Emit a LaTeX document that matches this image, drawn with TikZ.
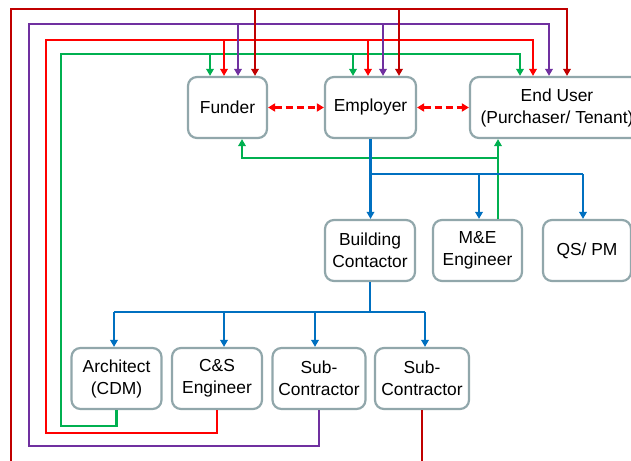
\documentclass[tikz,border=0pt]{standalone}
\usepackage{fontspec}
\setmainfont{Liberation Sans}
\usetikzlibrary{arrows.meta}
\definecolor{dred}{RGB}{192,0,0}
\definecolor{pur}{RGB}{112,48,160}
\definecolor{bred}{RGB}{255,0,0}
\definecolor{grn}{RGB}{0,176,80}
\definecolor{blu}{RGB}{0,112,192}
\definecolor{edge}{RGB}{145,167,171}

\begin{document}
\begin{tikzpicture}[x=1pt,y=-1pt,
  box/.style={draw=edge,line width=2.2pt,rounded corners=9pt,fill=white,
    align=center,inner sep=2pt,minimum height=61pt,
    font=\fontsize{17.4}{22}\selectfont},
  tip/.style={-{Triangle[length=7pt,width=7.5pt]}},
  feed/.style={line width=2.6pt},
  flow/.style={line width=2.2pt,blu},
  link/.style={line width=2.3pt,bred,dash pattern=on 7pt off 4pt,
    {Triangle[length=7pt,width=8pt]}-{Triangle[length=7pt,width=8pt]}}]
\useasboundingbox (0,0) rectangle (631,460);
\clip (0,0) rectangle (631,460);

% ---- boxes ----
\node[box,minimum width=79pt] (funder)   at (227.5,107.5) {Funder};
\node[box,minimum width=91pt] (employer) at (370.5,107.5) {Employer};
\node[box,minimum width=174pt] (enduser) at (557,107.5) {End User\\(Purchaser/ Tenant)};
\node[box,minimum width=90pt] (bc)   at (370,250.5) {Building\\Contactor};
\node[box,minimum width=89pt] (me)   at (477.5,250.5) {M\&E\\Engineer};
\node[box,minimum width=88pt] (qs)   at (587,250.5) {QS/ PM};
\node[box,minimum width=90pt] (arch) at (116.5,378.5) {Architect\\(CDM)};
\node[box,minimum width=90pt] (cs)   at (217,378.5) {C\&S\\Engineer};
\node[box,minimum width=93pt] (sub1) at (319,378.5) {Sub-\\Contractor};
\node[box,minimum width=94pt] (sub2) at (422,378.5) {Sub-\\Contractor};

% ---- feedback loops round the outside ----
% green loop from the architect
\coordinate (gBL) at (61,426);
\coordinate (gTL) at (61,54);
\coordinate (gTR) at (520,54);
\coordinate (gF)  at (210,54);
\coordinate (gE)  at (353,54);
\draw[feed,grn,tip] (arch.south) |- (gBL) -- (gTL) -- (gTR) -- (gTR |- enduser.north);
\draw[feed,grn,tip] (gF) -- (gF |- funder.north);
\draw[feed,grn,tip] (gE) -- (gE |- employer.north);

% red loop from the C&S engineer
\coordinate (rBL) at (46,433);
\coordinate (rTL) at (46,40);
\coordinate (rTR) at (533,40);
\coordinate (rF)  at (224,40);
\coordinate (rE)  at (368,40);
\draw[feed,bred,tip] (cs.south) |- (rBL) -- (rTL) -- (rTR) -- (rTR |- enduser.north);
\draw[feed,bred,tip] (rF) -- (rF |- funder.north);
\draw[feed,bred,tip] (rE) -- (rE |- employer.north);

% purple loop from the first sub-contractor
\coordinate (pBL) at (29,446);
\coordinate (pTL) at (29,24);
\coordinate (pTR) at (549,24);
\coordinate (pF)  at (238,24);
\coordinate (pE)  at (383,24);
\draw[feed,pur,tip] (sub1.south) |- (pBL) -- (pTL) -- (pTR) -- (pTR |- enduser.north);
\draw[feed,pur,tip] (pF) -- (pF |- funder.north);
\draw[feed,pur,tip] (pE) -- (pE |- employer.north);

% dark red loop from the second sub-contractor
\coordinate (dBL) at (11,475);
\coordinate (dTL) at (11,9);
\coordinate (dTR) at (567,9);
\coordinate (dF)  at (255,9);
\coordinate (dE)  at (399,9);
\draw[feed,dred,tip] (sub2.south) |- (dBL) -- (dTL) -- (dTR) -- (dTR |- enduser.north);
\draw[feed,dred,tip] (dF) -- (dF |- funder.north);
\draw[feed,dred,tip] (dE) -- (dE |- employer.north);

% ---- M&E engineer feeding back up ----
\coordinate (mJ) at (498,158);
\coordinate (mF) at (242,158);
\draw[feed,grn,tip] (me.north -| mJ) -- (enduser.south -| mJ);
\draw[feed,grn,tip] (mJ) -- (mF) -- (mF |- funder.south);

% ---- employer down to consultants ----
\coordinate (bJ) at (370,174);
\coordinate (bM) at (479,174);
\coordinate (bQ) at (583,174);
\draw[flow,tip] (employer.south) -- (employer.south |- bc.north);
\draw[flow] (bJ) -- (bQ);
\draw[flow,tip] (bM) -- (bM |- me.north);
\draw[flow,tip] (bQ) -- (bQ |- qs.north);

% ---- building contractor down to its team ----
\coordinate (tB) at (370,312);
\coordinate (tA) at (114,312);
\coordinate (tC) at (224,312);
\coordinate (tS) at (315,312);
\coordinate (tT) at (425,312);
\draw[flow] (bc.south) -- (tB);
\draw[flow] (tA) -- (tT);
\draw[flow,tip] (tA) -- (tA |- arch.north);
\draw[flow,tip] (tC) -- (tC |- cs.north);
\draw[flow,tip] (tS) -- (tS |- sub1.north);
\draw[flow,tip] (tT) -- (tT |- sub2.north);

% ---- peer links ----
\draw[link] (funder) -- (employer);
\draw[link] (employer) -- (enduser);
\end{tikzpicture}
\end{document}
